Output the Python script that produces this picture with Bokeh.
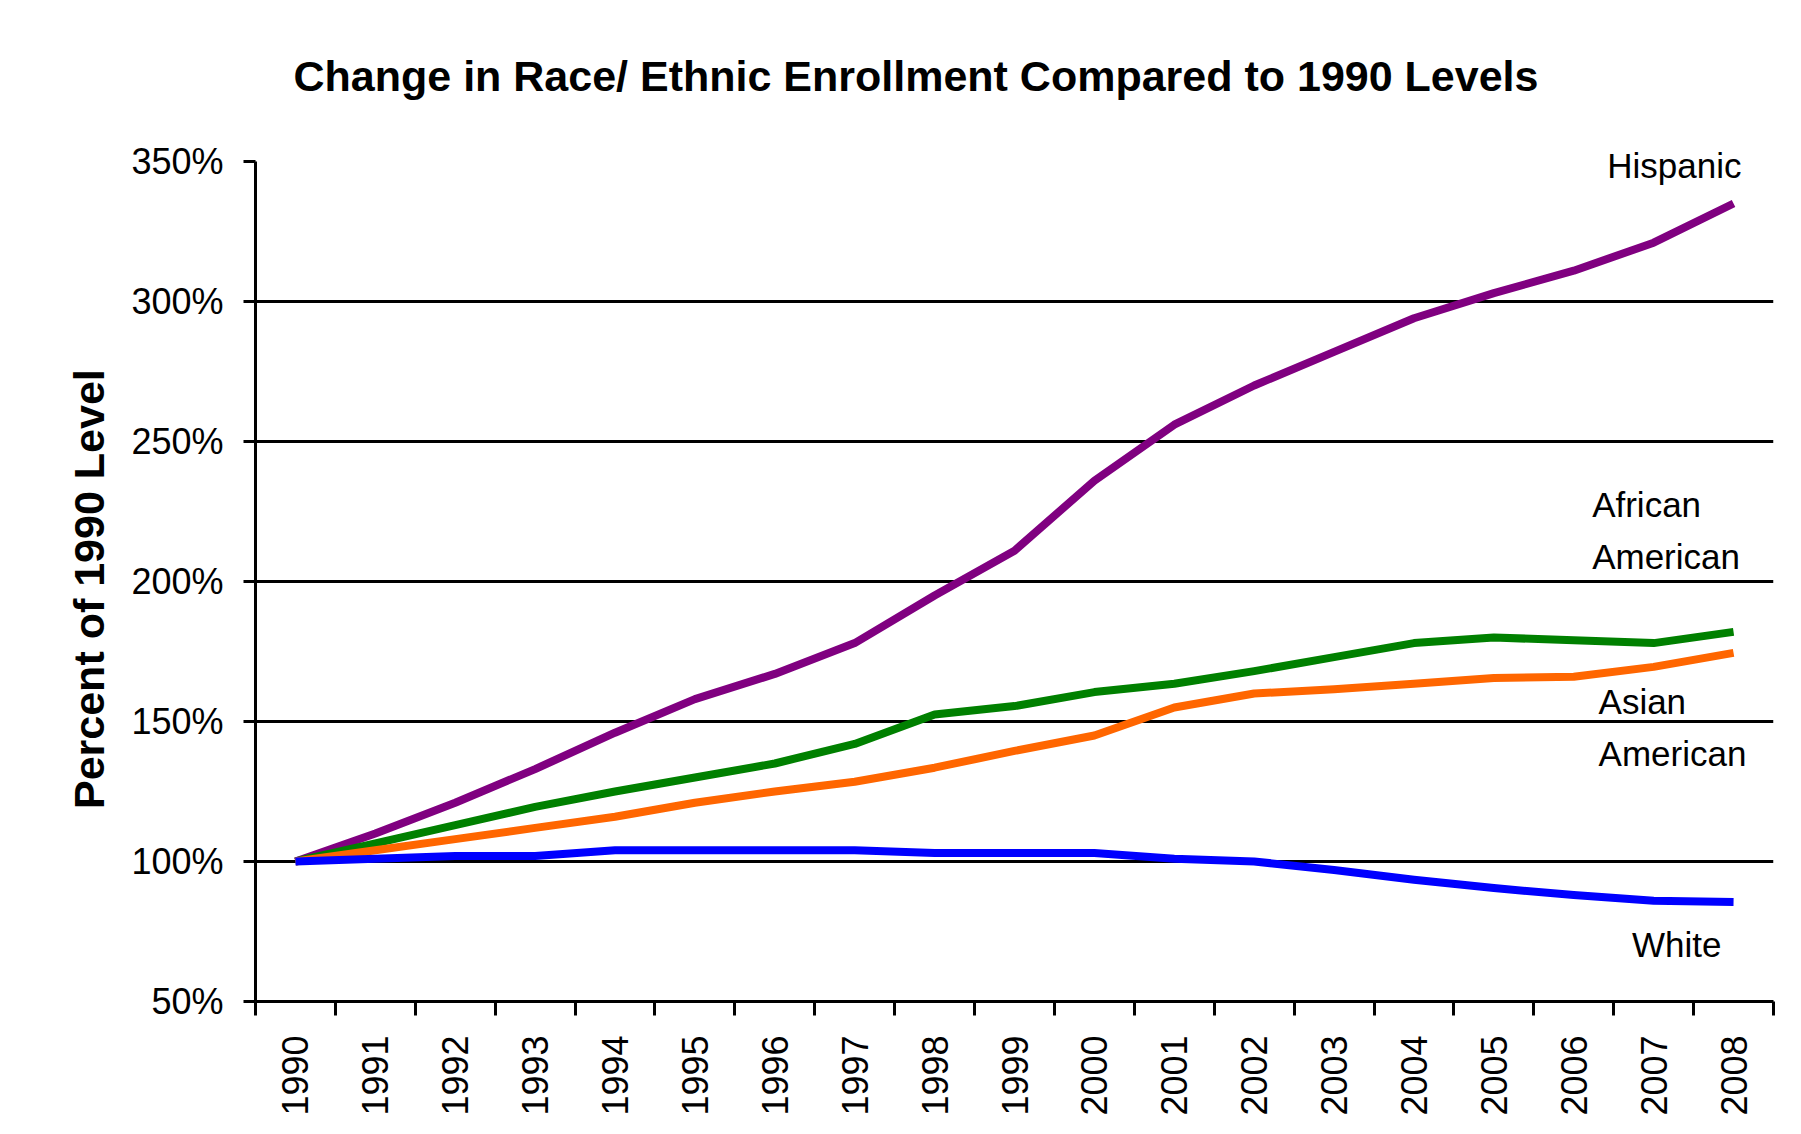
import math
from bokeh.plotting import figure
from bokeh.models import Range1d, FixedTicker, PrintfTickFormatter, Label
from bokeh.embed import file_html
from bokeh.resources import INLINE

# ---- data ----
years = [1990, 1991, 1992, 1993, 1994, 1995, 1996, 1997, 1998, 1999,
         2000, 2001, 2002, 2003, 2004, 2005, 2006, 2007, 2008]
hispanic = [100, 110, 121, 133, 146, 158, 167, 178, 195, 211,
            236, 256, 270, 282, 294, 303, 311, 321, 335]
african_american = [100, 106.5, 113, 119.5, 125, 130, 135, 142, 152.5, 155.5,
                    160.5, 163.5, 168, 173, 178, 180, 179, 178, 182]
asian_american = [100, 104, 108, 112, 116, 121, 125, 128.5, 133.5, 139.5,
                  145, 155, 160, 161.5, 163.5, 165.5, 166, 169.5, 174.5]
white = [100, 101, 102, 102, 104, 104, 104, 104, 103, 103,
         103, 101, 100, 97, 93.5, 90.5, 88, 86, 85.5]
y_ticks = [50, 100, 150, 200, 250, 300, 350]
grid_ticks = [100, 150, 200, 250, 300]
title_text = "Change in Race/ Ethnic Enrollment Compared to 1990 Levels"
y_title = "Percent of 1990 Level"

series = [
    (hispanic, "#800080"),
    (african_american, "#008000"),
    (asian_american, "#FF6600"),
    (white, "#0000FF"),
]

idx = list(range(len(years)))

# the frame reaches up to the top so that the title and the "Hispanic" label
# can sit above the 350% end of the value axis (axis line bounded at 50..350)
p = figure(width=1785, height=1118, output_backend="svg", toolbar_location=None,
           x_range=Range1d(-0.5, len(years) - 0.5), y_range=Range1d(50, 400),
           min_border_left=255, min_border_right=12, min_border_top=21,
           min_border_bottom=115)
p.title = None
p.outline_line_color = None
p.background_fill_color = "white"
p.border_fill_color = "white"

for vals, col in series:
    p.line(idx, vals, line_color=col, line_width=8, line_join="round")

# y axis
ya = p.yaxis[0]
ya.bounds = (50, 350)
ya.ticker = FixedTicker(ticks=y_ticks)
ya.formatter = PrintfTickFormatter(format="%d%%")
ya.axis_line_width = 3
ya.axis_line_color = "black"
ya.major_tick_in = 0
ya.major_tick_out = 12
ya.major_tick_line_width = 3
ya.minor_tick_line_color = None
ya.major_label_standoff = 20
ya.major_label_text_font = "Liberation Sans"
ya.major_label_text_font_size = "36px"
ya.major_label_text_color = "black"
# trailing no-break spaces keep the title centred on the 50..350 part of the axis
ya.axis_label = y_title + "\u00a0" * 13
ya.axis_label_text_font = "Liberation Sans"
ya.axis_label_text_font_size = "43px"
ya.axis_label_text_font_style = "bold"
ya.axis_label_text_color = "black"
ya.axis_label_standoff = 15

# x axis
xa = p.xaxis[0]
xa.ticker = FixedTicker(ticks=idx, minor_ticks=[i - 0.5 for i in range(len(years) + 1)])
xa.major_label_overrides = {i: str(y) for i, y in zip(idx, years)}
xa.major_label_orientation = math.pi / 2
xa.axis_line_width = 3
xa.axis_line_color = "black"
xa.major_tick_in = 0
xa.major_tick_out = 0
xa.minor_tick_in = 0
xa.minor_tick_out = 14
xa.minor_tick_line_width = 3
xa.minor_tick_line_color = "black"
xa.major_label_standoff = 20
xa.major_label_text_font = "Liberation Sans"
xa.major_label_text_font_size = "36px"
xa.major_label_text_color = "black"

p.xgrid.grid_line_color = None
p.ygrid.ticker = FixedTicker(ticks=grid_ticks)
p.ygrid.grid_line_color = "black"
p.ygrid.grid_line_width = 3
p.ygrid.grid_line_alpha = 1.0

# chart title (placed in data space above the plot area)
p.add_layout(Label(x=-0.024, y=380.6, text=title_text, text_font="Liberation Sans",
                   text_font_size="43px", text_font_style="bold", text_color="black",
                   text_baseline="alphabetic", text_align="left"))

# series labels
labels = [
    ("Hispanic", 16.42, 348.5),
    ("African", 16.23, 227.6),
    ("American", 16.23, 209.0),
    ("Asian", 16.31, 157.0),
    ("American", 16.31, 138.5),
    ("White", 16.73, 70.4),
]
for txt, lx, ly in labels:
    p.add_layout(Label(x=lx, y=ly, text=txt, text_font="Liberation Sans",
                       text_font_size="35px", text_color="black",
                       text_baseline="alphabetic", text_align="left"))

open("out.html", "w").write(file_html(p, INLINE))
